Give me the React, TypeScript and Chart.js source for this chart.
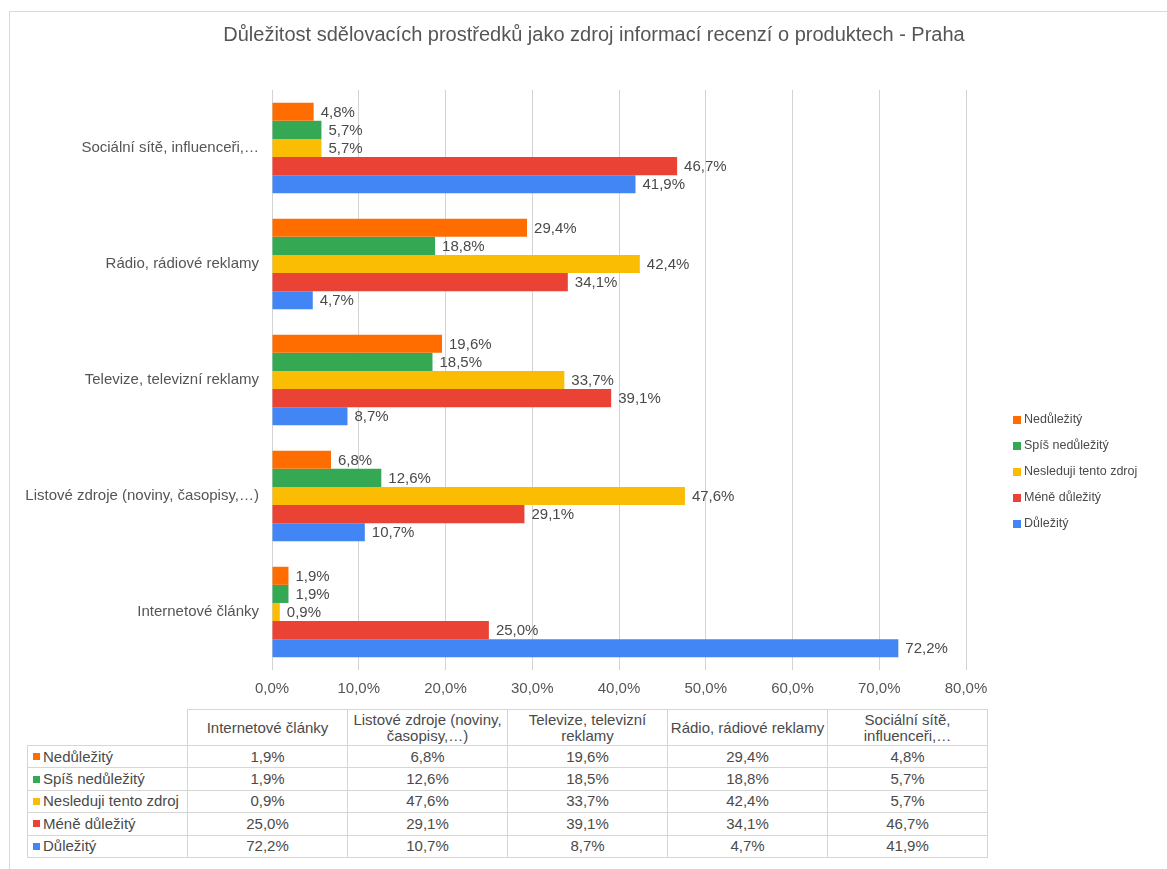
import React, { useEffect, useRef } from "react";
import { Chart, registerables } from "chart.js";

Chart.register(...registerables);

const TITLE = "Důležitost sdělovacích prostředků jako zdroj informací recenzí o produktech - Praha";

// categories in data-table order (chart shows them reversed, top to bottom)
const categories = [
  "Internetové články",
  "Listové zdroje (noviny, časopisy,…)",
  "Televize, televizní reklamy",
  "Rádio, rádiové reklamy",
  "Sociální sítě, influenceři,…",
];

const seriesNames = [
  "Nedůležitý",
  "Spíš nedůležitý",
  "Nesleduji tento zdroj",
  "Méně důležitý",
  "Důležitý",
];

const nedulezity = [1.9, 6.8, 19.6, 29.4, 4.8];
const spisNedulezity = [1.9, 12.6, 18.5, 18.8, 5.7];
const nesleduji = [0.9, 47.6, 33.7, 42.4, 5.7];
const meneDulezity = [25.0, 29.1, 39.1, 34.1, 46.7];
const dulezity = [72.2, 10.7, 8.7, 4.7, 41.9];

const seriesValues = [nedulezity, spisNedulezity, nesleduji, meneDulezity, dulezity];
const seriesColors = ["#FF6D01", "#34A853", "#FBBC04", "#EA4335", "#4285F4"];

const xMin = 0;
const xMax = 80;
const xStep = 10;

const FONT = "'Liberation Sans', Arial, sans-serif";
const TEXT = "#4a4a4a";

const fmt = (v: number) => v.toFixed(1).replace(".", ",") + "%";

const dataLabelPlugin = {
  id: "dataLabels",
  afterDatasetsDraw(chart: any) {
    const ctx = chart.ctx;
    ctx.save();
    ctx.font = `15px ${FONT}`;
    ctx.fillStyle = TEXT;
    ctx.textAlign = "left";
    ctx.textBaseline = "middle";
    chart.data.datasets.forEach((ds: any, di: number) => {
      const meta = chart.getDatasetMeta(di);
      meta.data.forEach((el: any, i: number) => {
        ctx.fillText(fmt(ds.data[i]), el.x + 7, el.y + 1);
      });
    });
    ctx.restore();
  },
};

const titlePlugin = {
  id: "fixedTitle",
  afterDraw(chart: any, _args: any, opts: any) {
    const ctx = chart.ctx;
    ctx.save();
    ctx.font = `20px ${FONT}`;
    ctx.fillStyle = "#555555";
    ctx.textAlign = "center";
    ctx.textBaseline = "middle";
    ctx.fillText(opts.text, opts.x, opts.y);
    ctx.restore();
  },
};

const sideLegendPlugin = {
  id: "sideLegend",
  afterDraw(chart: any, _args: any, opts: any) {
    const ctx = chart.ctx;
    ctx.save();
    ctx.font = `12.5px ${FONT}`;
    ctx.textBaseline = "middle";
    ctx.textAlign = "left";
    chart.data.datasets.forEach((ds: any, i: number) => {
      const y = opts.y + i * opts.gap;
      ctx.fillStyle = ds.backgroundColor;
      ctx.fillRect(opts.x, y - 4, 8, 8);
      ctx.fillStyle = TEXT;
      ctx.fillText(ds.label, opts.x + 11, y);
    });
    ctx.restore();
  },
};

export default function App() {
  const canvasRef = useRef<HTMLCanvasElement | null>(null);

  useEffect(() => {
    if (!canvasRef.current) return;
    const chart = new Chart(canvasRef.current, {
      type: "bar",
      data: {
        labels: categories,
        datasets: seriesNames.map((name, i) => ({
          label: name,
          data: seriesValues[i],
          backgroundColor: seriesColors[i],
          borderWidth: 0,
          categoryPercentage: 0.78,
          barPercentage: 1.0,
        })),
      },
      options: {
        indexAxis: "y",
        responsive: false,
        animation: false,
        devicePixelRatio: 1,
        layout: { padding: { left: 10, right: 201, top: 90, bottom: 0 } },
        plugins: {
          legend: { display: false },
          tooltip: { enabled: false },
          title: { display: false },
          fixedTitle: { text: TITLE, x: 594, y: 35 },
          sideLegend: { x: 1013, y: 420, gap: 26 },
        } as any,
        scales: {
          x: {
            type: "linear",
            min: xMin,
            max: xMax,
            ticks: {
              stepSize: xStep,
              color: "#555555",
              font: { family: FONT, size: 15 },
              padding: 10,
              callback: (v: any) => fmt(Number(v)),
            },
            grid: { color: "#d3d3d3", drawTicks: false },
            border: { display: false },
            afterFit: (s: any) => {
              s.height = 30;
            },
          },
          y: {
            reverse: true,
            ticks: {
              color: "#555555",
              font: { family: FONT, size: 15 },
              padding: 13,
            },
            grid: { display: false, drawTicks: false },
            border: { display: false },
            afterFit: (s: any) => {
              s.width = 262;
            },
          },
        },
      },
      plugins: [dataLabelPlugin, titlePlugin, sideLegendPlugin],
    });
    return () => chart.destroy();
  }, []);

  const cell: React.CSSProperties = {
    border: "1px solid #d6d6d6",
    textAlign: "center",
    padding: "0 2px",
    color: TEXT,
  };

  return (
    <div
      style={{
        position: "absolute",
        left: 0,
        top: 0,
        width: 1167,
        height: 869,
        background: "#ffffff",
        overflow: "hidden",
        fontFamily: FONT,
      }}
    >
      <div
        style={{
          position: "absolute",
          left: 9,
          top: 11,
          width: 1200,
          height: 900,
          borderTop: "1px solid #d9d9d9",
          borderLeft: "1px solid #d9d9d9",
        }}
      />
      <canvas
        ref={canvasRef}
        width={1167}
        height={700}
        style={{ position: "absolute", left: 0, top: 0, width: 1167, height: 700 }}
      />
      <table
        style={{
          position: "absolute",
          left: 27,
          top: 709,
          borderCollapse: "collapse",
          tableLayout: "fixed",
          fontSize: 15,
          fontFamily: FONT,
          color: TEXT,
        }}
      >
        <colgroup>
          <col style={{ width: 160 }} />
          {categories.map((c) => (
            <col key={c} style={{ width: 160 }} />
          ))}
        </colgroup>
        <tbody>
          <tr style={{ height: 36 }}>
            <td style={{ border: "none" }} />
            {categories.map((c) => (
              <td key={c} style={{ ...cell, lineHeight: "16px" }}>
                {c}
              </td>
            ))}
          </tr>
          {seriesNames.map((name, si) => (
            <tr key={name} style={{ height: 22.4, lineHeight: "18px" }}>
              <td style={{ ...cell, textAlign: "left", padding: "0 2px 0 5px", whiteSpace: "nowrap" }}>
                <span
                  style={{
                    display: "inline-block",
                    width: 7,
                    height: 7,
                    background: seriesColors[si],
                    marginRight: 3,
                    verticalAlign: "middle",
                    position: "relative",
                    top: -1,
                  }}
                />
                {name}
              </td>
              {seriesValues[si].map((v, ci) => (
                <td key={ci} style={cell}>
                  {fmt(v)}
                </td>
              ))}
            </tr>
          ))}
        </tbody>
      </table>
    </div>
  );
}
